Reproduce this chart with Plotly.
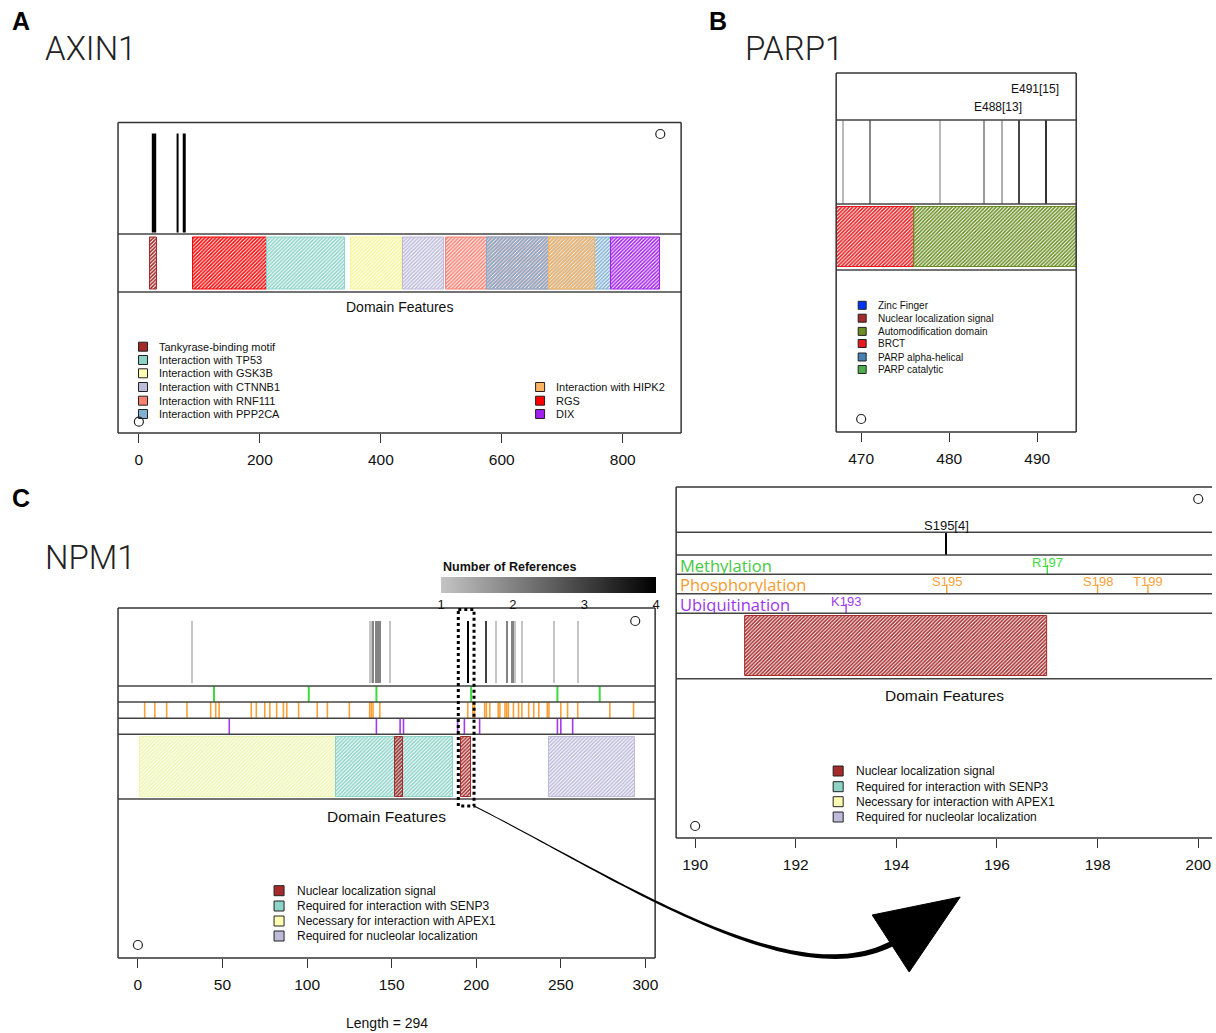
import math
import plotly.graph_objects as go

W, H = 1216, 1033
S = 1.0035  # horizontal calibration of pixel positions
FONT = "Liberation Sans, Arial, Helvetica, sans-serif"

# ======================= DATA =======================
# --- AXIN1 (panel A) ---
axin1_length = 862
axin1_sites = [25, 64, 75]
axin1_dom_names = ["Tankyrase-binding motif", "RGS", "Interaction with TP53",
                   "Interaction with GSK3B", "Interaction with CTNNB1",
                   "Interaction with RNF111", "Interaction with PPP2CA",
                   "Interaction with HIPK2", "DIX"]
axin1_dom_start = [19, 89, 212, 350, 436, 508, 576, 678, 781]
axin1_dom_end = [30, 212, 340, 435, 505, 678, 781, 754, 862]
axin1_legend_left = ["Tankyrase-binding motif", "Interaction with TP53",
                     "Interaction with GSK3B", "Interaction with CTNNB1",
                     "Interaction with RNF111", "Interaction with PPP2CA"]
axin1_legend_right = ["Interaction with HIPK2", "RGS", "DIX"]
axin1_ticks = [0, 200, 400, 600, 800]

# --- PARP1 (panel B, zoomed region) ---
parp1_view = [470, 491]
parp1_sites = [468, 471, 479, 484, 486, 488, 491]
parp1_refs = [2, 7, 2, 5, 3, 13, 15]
parp1_labelled = [488, 491]
parp1_residue = {488: "E", 491: "E"}
parp1_dom_names = ["Zinc Finger", "Zinc Finger", "Nuclear localization signal",
                   "Zinc Finger", "BRCT", "Automodification domain",
                   "PARP alpha-helical", "PARP catalytic"]
parp1_dom_start = [9, 113, 207, 224, 385, 476, 662, 788]
parp1_dom_end = [93, 203, 209, 359, 476, 524, 779, 1014]
parp1_legend = ["Zinc Finger", "Nuclear localization signal", "Automodification domain",
                "BRCT", "PARP alpha-helical", "PARP catalytic"]
parp1_ticks = [470, 480, 490]

# --- NPM1 (panel C and zoom) ---
npm1_length = 294
npm1_sites = [32, 137, 138, 139, 141, 142, 143, 149, 195, 206, 212, 218,
              221, 222, 223, 227, 246, 260]
npm1_refs = [1, 1, 1, 2, 2, 2, 2, 1, 4, 3, 1, 2, 2, 2, 1, 1, 1, 1]
npm1_methylation = [45, 101, 141, 197, 248, 273]
npm1_phosphorylation = [4, 10, 17, 29, 43, 46, 48, 67, 70, 75, 78, 82, 86, 88, 95,
                        106, 112, 125, 137, 138, 139, 143, 195, 198, 199, 205, 206,
                        208, 213, 214, 217, 218, 219, 222, 225, 227, 231, 234, 237,
                        242, 243, 250, 254, 260, 279, 293]
npm1_ubiquitination = [54, 141, 155, 157, 189, 193, 202, 248, 250, 257]
npm1_residue = {193: "K", 195: "S", 197: "R", 198: "S", 199: "T"}
npm1_dom_names = ["Necessary for interaction with APEX1", "Required for interaction with SENP3",
                  "Nuclear localization signal", "Nuclear localization signal",
                  "Required for nucleolar localization"]
npm1_dom_start = [1, 117, 152, 191, 243]
npm1_dom_end = [117, 186, 157, 197, 294]
npm1_legend = ["Nuclear localization signal", "Required for interaction with SENP3",
               "Necessary for interaction with APEX1", "Required for nucleolar localization"]
npm1_ticks = [0, 50, 100, 150, 200, 250, 300]
zoom_window = [190, 200]
zoom_ticks = [190, 192, 194, 196, 198, 200]
ref_ticks = [1, 2, 3, 4]

# ======================= STYLE =======================
DOM_COLORS = {
    "Tankyrase-binding motif": "#A52A2A",
    "RGS": "#FF0000",
    "Interaction with TP53": "#8DD3C7",
    "Interaction with GSK3B": "#F5F59A",
    "Interaction with CTNNB1": "#BEBADA",
    "Interaction with RNF111": "#FB8072",
    "Interaction with PPP2CA": "#80B1D3",
    "Interaction with HIPK2": "#FDB462",
    "DIX": "#A020F0",
    "Zinc Finger": "#0033FF",
    "Nuclear localization signal": "#A52A2A",
    "Automodification domain": "#6B8E23",
    "BRCT": "#E8191C",
    "PARP alpha-helical": "#4682B4",
    "PARP catalytic": "#4DAF4A",
    "Necessary for interaction with APEX1": "#EEF5B0",
    "Required for interaction with SENP3": "#8DD3C7",
    "Required for nucleolar localization": "#BEBADA",
}
LEGEND_COLORS = dict(DOM_COLORS)
LEGEND_COLORS["Interaction with GSK3B"] = "#FFFFB3"
LEGEND_COLORS["Necessary for interaction with APEX1"] = "#FFFFB3"

GREEN, ORANGE, PURPLE = "#3DDB3D", "#F9A136", "#A23BEF"
GREEN_T, ORANGE_T, PURPLE_T = "#44C944", "#F79A2C", "#9B36EE"
GREYSCALE = [[0, "#C4C4C4"], [1, "#000000"]]

# panel geometry in pixels (box) and x ranges
P = {
    "A": dict(x0=118, x1=681, y0=122.5, y1=433, xr=[-34.48, 896.48], ax=("x", "y")),
    "B": dict(x0=836, x1=1076, y0=73, y1=432, xr=[467.16, 494.43], ax=("x2", "y2")),
    "C": dict(x0=118, x1=655, y0=608, y1=958, xr=[-11.76, 305.76], ax=("x3", "y3")),
    "D": dict(x0=676, x1=1216, y0=487, y1=838, xr=[189.622, 200.358], ax=("x4", "y4")),
}


def px2x(k, px):
    p = P[k]
    return p["xr"][0] + (px - p["x0"]) / (p["x1"] - p["x0"]) * (p["xr"][1] - p["xr"][0])


def fx(px):
    return px * S / W


fig = go.Figure()
shapes, ann = [], []


def add_domains(k, names, starts, ends, yc, h):
    xa, ya = P[k]["ax"]
    for n, s, e in zip(names, starts, ends):
        c = DOM_COLORS[n]
        fig.add_trace(go.Bar(
            x=[e - s], base=[s], y=[yc], width=h, orientation="h", xaxis=xa, yaxis=ya,
            marker=dict(color=c, line=dict(color=c, width=1),
                        pattern=dict(shape="/", fillmode="replace", size=2.6, solidity=0.6)),
            hoverinfo="skip", showlegend=False))


def add_site_bars(k, xs, refs, top, bot, w, cax):
    xa, ya = P[k]["ax"]
    fig.add_trace(go.Bar(
        x=xs, y=[bot - top] * len(xs), base=[top] * len(xs), width=w, xaxis=xa, yaxis=ya,
        marker=dict(color=refs, coloraxis=cax, line=dict(width=0)),
        hoverinfo="skip", showlegend=False))


def add_ticks(k, xs, top, bot, color, width):
    xa, ya = P[k]["ax"]
    X, Y = [], []
    for v in xs:
        X += [v, v, None]
        Y += [top, bot, None]
    fig.add_trace(go.Scatter(x=X, y=Y, mode="lines", line=dict(color=color, width=width),
                             xaxis=xa, yaxis=ya, hoverinfo="skip", showlegend=False))


def add_legend(k, names, sq_px, txt_px, rows, size, fsize):
    xa, ya = P[k]["ax"]
    fig.add_trace(go.Scatter(
        x=[px2x(k, sq_px)] * len(names), y=rows, mode="markers", xaxis=xa, yaxis=ya,
        marker=dict(symbol="square", size=size, color=[LEGEND_COLORS[n] for n in names],
                    line=dict(color="#222", width=1)),
        hoverinfo="skip", showlegend=False, cliponaxis=False))
    for n, r in zip(names, rows):
        ann.append(dict(x=px2x(k, txt_px), y=r, xref=xa, yref=ya, text=n, showarrow=False,
                        xanchor="left", yanchor="middle",
                        font=dict(size=fsize, family=FONT, color="#111")))


def add_circles(k, xs, ys):
    xa, ya = P[k]["ax"]
    fig.add_trace(go.Scatter(x=xs, y=ys, mode="markers", xaxis=xa, yaxis=ya,
                             marker=dict(symbol="circle-open", size=9, color="#222",
                                         line=dict(width=1.2)),
                             hoverinfo="skip", showlegend=False, cliponaxis=False))


def hline(k, yoff, color="#444", width=1.6):
    xa, ya = P[k]["ax"]
    shapes.append(dict(type="line", xref=xa + " domain", x0=0, x1=1, yref=ya, y0=yoff, y1=yoff,
                       line=dict(color=color, width=width), layer="above"))


def box(k, right=True):
    xa, ya = P[k]["ax"]
    edges = [(0, 0, 1, 0), (0, 1, 1, 1), (0, 0, 0, 1)]
    if right:
        edges.append((1, 0, 1, 1))
    for x0, y0, x1, y1 in edges:
        shapes.append(dict(type="line", xref=xa + " domain", yref=ya + " domain",
                           x0=x0, x1=x1, y0=y0, y1=y1, line=dict(color="#333", width=1.5),
                           layer="above"))


def domain_label(k, yoff, size):
    xa, ya = P[k]["ax"]
    ann.append(dict(x=0.5, xref=xa + " domain", y=yoff, yref=ya, text="Domain Features",
                    showarrow=False, xanchor="center", yanchor="middle",
                    font=dict(size=size, family=FONT, color="#111")))


# ======================= PANEL A =======================
k = "A"
xa, ya = P[k]["ax"]
site_w = [4.4, 2.0, 3.0]
for s, w in zip(axin1_sites, site_w):
    add_ticks(k, [s], 11, 110, "#000000", w)
add_domains(k, axin1_dom_names, axin1_dom_start, axin1_dom_end, 141, 52)
for yo in [111.5, 169.5]:
    hline(k, yo)
box(k)
domain_label(k, 184.5, 14)
add_legend(k, axin1_legend_left, 143, 157, [224.2, 237.5, 250.8, 264.5, 278.2, 291.5], 9, 11)
add_legend(k, axin1_legend_right, 540, 554, [264.5, 278.2, 291.5], 9, 11)
add_circles(k, [0, axin1_length], [299.2, 11.5])

# ======================= PANEL B =======================
k = "B"
xa, ya = P[k]["ax"]
add_site_bars(k, parp1_sites, parp1_refs, 47, 131, 0.13, "coloraxis2")
add_domains(k, parp1_dom_names, parp1_dom_start, parp1_dom_end, 164, 60)
for yo in [47, 131, 197]:
    hline(k, yo)
box(k)
label_y = {491: 15.6, 488: 34}
label_shift = {491: -11, 488: -22}
for s, r in zip(parp1_sites, parp1_refs):
    if s in parp1_labelled:
        ann.append(dict(x=s, y=label_y[s], xref=xa, yref=ya, xshift=label_shift[s],
                        text=f"{parp1_residue[s]}{s}[{r}]", showarrow=False,
                        xanchor="center", yanchor="middle",
                        font=dict(size=12, family=FONT, color="#111")))
add_legend(k, parp1_legend, 862, 876, [232.3, 245.2, 258.4, 270.5, 284, 296.5], 8, 10)
add_circles(k, [parp1_view[0]], [346])

# ======================= PANEL C =======================
k = "C"
xa, ya = P[k]["ax"]
add_site_bars(k, npm1_sites, npm1_refs, 13, 74.7, 0.7, "coloraxis")
add_ticks(k, npm1_methylation, 78, 94, GREEN, 2)
add_ticks(k, npm1_phosphorylation, 94, 110.3, ORANGE, 1.6)
add_ticks(k, npm1_ubiquitination, 110.3, 126.3, PURPLE, 1.6)
add_domains(k, npm1_dom_names, npm1_dom_start, npm1_dom_end, 159, 60)
for yo in [78, 94, 110.3, 126.3, 191]:
    hline(k, yo)
box(k)
domain_label(k, 208, 15.5)
add_legend(k, npm1_legend, 279, 295, [282.7, 298, 313, 328], 10, 12)
add_circles(k, [0, npm1_length], [337, 13])
# dotted zoom window
shapes.append(dict(type="rect", xref=xa, yref=ya, x0=zoom_window[0] - 0.6, x1=zoom_window[1] - 1.3,
                   y0=1.5, y1=198, line=dict(color="#000", width=3, dash="dot"), layer="above"))
# colourbar title (left aligned over the bar)
ann.append(dict(x=fx(441), y=1 - 567 / H, xref="paper", yref="paper",
                text="<b>Number of References</b>", showarrow=False, xanchor="left",
                yanchor="middle", font=dict(size=12.5, family=FONT, color="#111")))

# ======================= PANEL D (zoom) =======================
k = "D"
xa, ya = P[k]["ax"]
lo, hi = P[k]["xr"]
zs = [(s, r) for s, r in zip(npm1_sites, npm1_refs) if lo <= s <= hi]
add_site_bars(k, [s for s, _ in zs], [r for _, r in zs], 45.3, 68, 0.03, "coloraxis")
for s, r in zs:
    ann.append(dict(x=s, y=38.7, xref=xa, yref=ya, text=f"{npm1_residue.get(s, 'S')}{s}[{r}]",
                    showarrow=False, xanchor="center", yanchor="middle",
                    font=dict(size=13, family=FONT, color="#111")))
tracks = [("Methylation", npm1_methylation, 68, 87.3, GREEN, GREEN_T),
          ("Phosphorylation", npm1_phosphorylation, 87.3, 106.7, ORANGE, ORANGE_T),
          ("Ubiquitination", npm1_ubiquitination, 106.7, 126.3, PURPLE, PURPLE_T)]
for name, arr, top, bot, lc, tc in tracks:
    inside = [v for v in arr if lo <= v <= hi]
    add_ticks(k, inside, top + 10, bot, lc, 1.4)
    ann.append(dict(x=0.004, xref=xa + " domain", y=(top + bot) / 2, yref=ya, text=name,
                    showarrow=False, xanchor="left", yanchor="middle", height=18,
                    font=dict(size=16.5, family="Open Sans, sans-serif", color=tc)))
    for v in inside:
        ann.append(dict(x=v, y=top + 7.5, xref=xa, yref=ya, text=f"{npm1_residue.get(v, '')}{v}",
                        showarrow=False, xanchor="center", yanchor="middle", height=15,
                        font=dict(size=13, family=FONT, color=lc)))
add_domains(k, npm1_dom_names, npm1_dom_start, npm1_dom_end, 159.2, 59.7)
for yo in [45.3, 68, 87.3, 106.7, 126.3, 191.7]:
    hline(k, yo)
box(k, right=False)
domain_label(k, 208.7, 15.5)
add_legend(k, npm1_legend, 838, 854, [284, 299.7, 314.7, 330], 10, 12)
add_circles(k, [zoom_window[1], zoom_window[0]], [12, 339])

# ======================= ARROW (decoration) =======================
def pp(x, y):
    return fx(x), 1 - y / H

P0, P1, P2, P3 = (474, 806), (620, 880), (790, 995), (891, 944)
N = 60
upper, lower = [], []
for i in range(N + 1):
    t = i / N
    bx = (1 - t) ** 3 * P0[0] + 3 * (1 - t) ** 2 * t * P1[0] + 3 * (1 - t) * t ** 2 * P2[0] + t ** 3 * P3[0]
    by = (1 - t) ** 3 * P0[1] + 3 * (1 - t) ** 2 * t * P1[1] + 3 * (1 - t) * t ** 2 * P2[1] + t ** 3 * P3[1]
    dx = 3 * (1 - t) ** 2 * (P1[0] - P0[0]) + 6 * (1 - t) * t * (P2[0] - P1[0]) + 3 * t ** 2 * (P3[0] - P2[0])
    dy = 3 * (1 - t) ** 2 * (P1[1] - P0[1]) + 6 * (1 - t) * t * (P2[1] - P1[1]) + 3 * t ** 2 * (P3[1] - P2[1])
    L = math.hypot(dx, dy)
    nx, ny = -dy / L, dx / L
    hw = 0.45 + 2.4 * t ** 1.4
    upper.append(pp(bx + nx * hw, by + ny * hw))
    lower.append(pp(bx - nx * hw, by - ny * hw))
pts = upper + lower[::-1]
path = "M " + " L ".join(f"{x:.5f},{y:.5f}" for x, y in pts) + " Z"
shapes.append(dict(type="path", xref="paper", yref="paper", path=path,
                   fillcolor="#000", line=dict(width=0), layer="above"))
tri = [pp(872, 915), pp(960, 897), pp(909, 972)]
shapes.append(dict(type="path", xref="paper", yref="paper",
                   path="M " + " L ".join(f"{x:.5f},{y:.5f}" for x, y in tri) + " Z",
                   fillcolor="#000", line=dict(color="#000", width=1), layer="above"))

# ======================= TITLES =======================
def paper_text(x, y, text, size, family=FONT, weight="normal", xanchor="left", color="#111"):
    ann.append(dict(x=fx(x), y=1 - y / H, xref="paper", yref="paper", text=text, showarrow=False,
                    xanchor=xanchor, yanchor="middle",
                    font=dict(size=size, family=family, weight=weight, color=color)))

paper_text(10, 21, "A", 25, weight="bold", color="#000")
paper_text(707, 21, "B", 25, weight="bold", color="#000")
paper_text(10, 498, "C", 25, weight="bold", color="#000")
paper_text(43, 48, "AXIN1", 33, family="Roboto, Liberation Sans, sans-serif", weight=300, color="#222")
paper_text(743, 48, "PARP1", 33, family="Roboto, Liberation Sans, sans-serif", weight=300, color="#222")
paper_text(43, 557, "NPM1", 33, family="Roboto, Liberation Sans, sans-serif", weight=300, color="#222")
paper_text(387, 1023, f"Length = {npm1_length}", 14, xanchor="center")

# ======================= LAYOUT =======================
layout = dict(
    width=W, height=H, margin=dict(l=0, r=0, t=0, b=0),
    paper_bgcolor="white", plot_bgcolor="white", showlegend=False,
    barmode="overlay", bargap=0, shapes=shapes, annotations=ann,
    font=dict(family=FONT, color="#111"),
    coloraxis=dict(cmin=1, cmax=4, colorscale=GREYSCALE,
                   colorbar=dict(orientation="h", x=fx(441), xanchor="left",
                                 y=1 - 577 / H, yanchor="top",
                                 len=214 * S, lenmode="pixels", thickness=16,
                                 xpad=0, ypad=0, outlinewidth=0,
                                 tickvals=ref_ticks, ticks="",
                                 tickfont=dict(size=13, family=FONT, color="#111"))),
    coloraxis2=dict(cmin=1, cmax=20, colorscale=GREYSCALE, showscale=False),
)
tick_sets = {"A": axin1_ticks, "B": parp1_ticks, "C": npm1_ticks, "D": zoom_ticks}
for kk, p in P.items():
    xa, ya = p["ax"]
    xs = "xaxis" + xa[1:]
    ys = "yaxis" + ya[1:]
    d0, d1 = fx(p["x0"]), fx(p["x1"])
    xr = list(p["xr"])
    if d1 > 1:
        xr[1] = px2x(kk, W / S)
        d1 = 1.0
    layout[xs] = dict(domain=[d0, d1], range=xr, anchor=ya,
                      showgrid=False, zeroline=False, showline=False, ticks="outside",
                      ticklen=9, tickwidth=1.3, tickcolor="#333", tickvals=tick_sets[kk],
                      ticklabelstandoff=3,
                      tickfont=dict(size=15.5, family=FONT, color="#111"), fixedrange=True)
    layout[ys] = dict(domain=[1 - p["y1"] / H, 1 - p["y0"] / H], range=[p["y1"] - p["y0"], 0],
                      anchor=xa, visible=False, fixedrange=True)

fig.update_layout(**layout)
fig.write_html("out.html", config={"displayModeBar": False},
               post_script="document.body.style.margin='0';document.body.style.overflow='hidden';")
